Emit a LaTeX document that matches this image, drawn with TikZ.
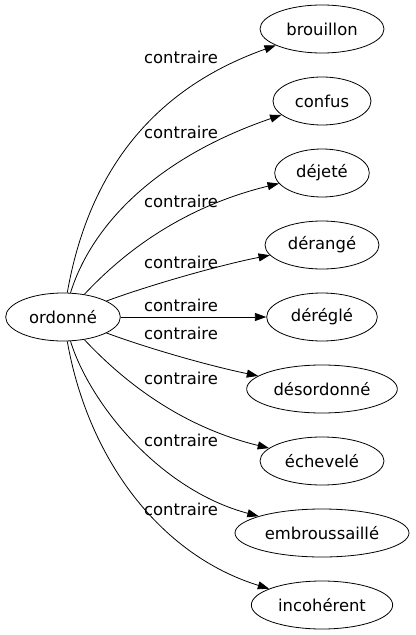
\documentclass[tikz,border=0pt]{standalone}
\usepackage{fontspec}
\setmainfont{DejaVu Sans}
\usetikzlibrary{shapes.geometric,arrows.meta}
\begin{document}
\begin{tikzpicture}[x=0.75pt, y=-0.75pt,
  every node/.style={font=\fontsize{12.3}{14}\selectfont},
  syn/.style={ellipse, draw, line width=0.6pt, inner sep=0pt, minimum height=36pt},
  rel/.style={-{Triangle[length=8.5pt, width=6pt]}, line width=0.6pt},
  lbl/.style={anchor=base, inner sep=0pt}]
\useasboundingbox (0,0) rectangle (415,635);
\node[syn, minimum width=86pt] (ordonne) at (63,317){ordonné};
\node[syn, minimum width=93pt] (brouillon) at (322,29){brouillon};
\node[syn, minimum width=73.5pt] (confus) at (322,101){confus};
\node[syn, minimum width=71pt] (dejete) at (322,173){déjeté};
\node[syn, minimum width=85.5pt] (derange) at (322,245){dérangé};
\node[syn, minimum width=83pt] (deregle) at (322,317){déréglé};
\node[syn, minimum width=113pt] (desordonne) at (322,389){désordonné};
\node[syn, minimum width=93pt] (echevele) at (322,461){échevelé};
\node[syn, minimum width=130.5pt] (embroussaille) at (322,533){embroussaillé};
\node[syn, minimum width=106pt] (incoherent) at (322,605){incohérent};
\draw[rel](ordonne) .. controls (88,175) and (150,90) .. (brouillon);
\node[lbl] (l1) at (181,64){contraire};
\draw[rel](ordonne) .. controls (90,230) and (150,160) .. (confus);
\node[lbl] (l2) at (181,138){contraire};
\draw[rel](ordonne) .. controls (112,265) and (170,210) .. (dejete);
\node[lbl] (l3) at (181,207){contraire};
\draw[rel](ordonne) .. controls (150,285) and (220,265) .. (derange);
\node[lbl] (l4) at (181,268){contraire};
\draw[rel](ordonne) -- (deregle);
\node[lbl] (l5) at (181,311){contraire};
\draw[rel](ordonne) .. controls (150,349) and (210,366) .. (desordonne);
\node[lbl] (l6) at (181,339){contraire};
\draw[rel](ordonne) .. controls (112,369) and (170,424) .. (echevele);
\node[lbl] (l7) at (181,384){contraire};
\draw[rel](ordonne) .. controls (90,404) and (160,490) .. (embroussaille);
\node[lbl] (l8) at (181,446){contraire};
\draw[rel](ordonne) .. controls (88,459) and (160,555) .. (incoherent);
\node[lbl] (l9) at (181,515){contraire};
\end{tikzpicture}
\end{document}
